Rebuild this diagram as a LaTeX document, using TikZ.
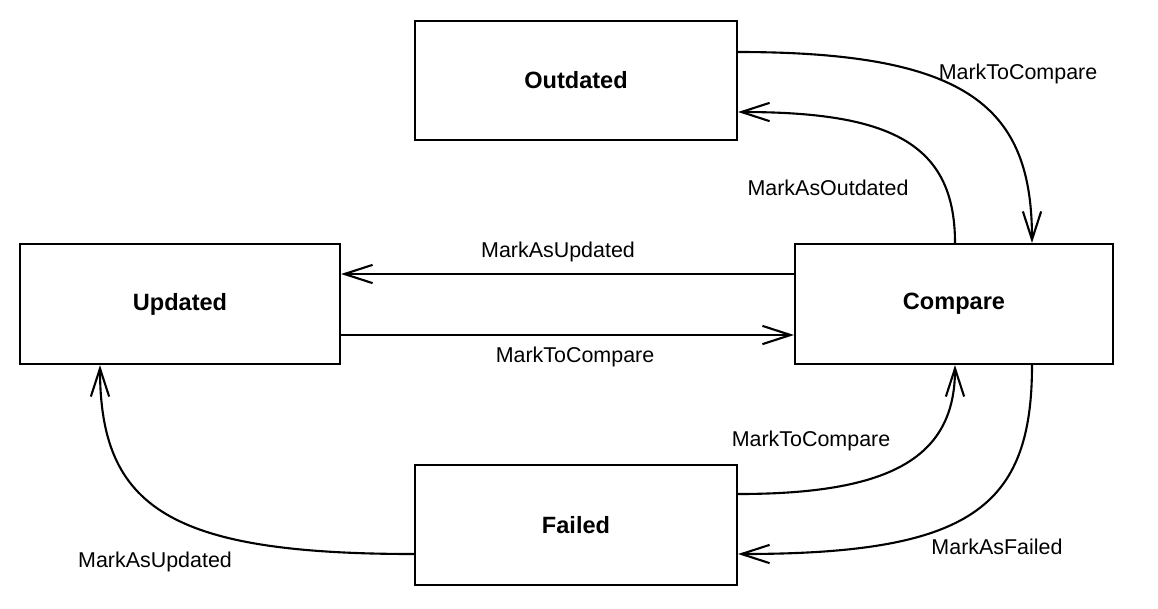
\documentclass[tikz,border=0pt]{standalone}
\usepackage{fontspec}
\setmainfont{Liberation Sans}
\usetikzlibrary{arrows.meta,calc}
\def\lbl{\fontsize{6.1}{7}\selectfont}
\def\st{\fontsize{6.7}{8}\selectfont\bfseries}

\begin{document}
\begin{tikzpicture}[line width=0.6pt,
    state/.style={draw,line width=0.6pt,inner sep=0pt,font=\st},
    trans/.style={-{Straight Barb[length=8pt,width=5.2pt,line width=0.6pt]}},
    tlabel/.style={font=\lbl,inner sep=1pt}]
	\useasboundingbox (0,0) rectangle (11.58,6.08);
    \node[state,minimum width=3.22cm,minimum height=1.19cm] (outd) at (5.76,5.275) {Outdated};
    \node[state,minimum width=3.20cm,minimum height=1.20cm] (upd) at (1.80,3.04) {Updated};
    \node[state,minimum width=3.18cm,minimum height=1.20cm] (cmp) at (9.54,3.04) {Compare};
    \node[state,minimum width=3.22cm,minimum height=1.20cm] (fail) at (5.76,0.83) {Failed};
    % outdated <-> compare
    \draw[trans] ([yshift=0.285cm]outd.east) .. controls (9.7,5.56) and (10.32,5.0) .. ([xshift=0.78cm]cmp.north);
    \draw[trans] ([xshift=0.01cm]cmp.north) .. controls (9.55,4.65) and (8.9,4.96) .. ([yshift=-0.315cm]outd.east);
    \node[tlabel] (l1) at (10.18,5.34) {MarkToCompare};
    \node[tlabel] (l2) at (8.28,4.20) {MarkAsOutdated};
    % updated <-> compare
    \draw[trans] ([yshift=0.30cm]cmp.west) -- ([yshift=0.30cm]upd.east);
    \draw[trans] ([yshift=-0.31cm]upd.east) -- ([yshift=-0.31cm]cmp.west);
    \node[tlabel] (l3) at (5.58,3.56) {MarkAsUpdated};
    \node[tlabel] (l4) at (5.75,2.51) {MarkToCompare};
    % failed <-> compare
    \draw[trans] ([yshift=0.31cm]fail.east) .. controls (8.9,1.14) and (9.55,1.5) .. ([xshift=0.01cm]cmp.south);
    \draw[trans] ([xshift=0.78cm]cmp.south) .. controls (10.32,1.0) and (9.7,0.54) .. ([yshift=-0.29cm]fail.east);
    \node[tlabel] (l5) at (8.11,1.67) {MarkToCompare};
    \node[tlabel] (l6) at (9.97,0.61) {MarkAsFailed};
    % failed -> updated
    \draw[trans] ([yshift=-0.29cm]fail.west) .. controls (1.7,0.54) and (1.0,1.0) .. ([xshift=-0.80cm]upd.south);
    \node[tlabel] (l7) at (1.55,0.46) {MarkAsUpdated};
\end{tikzpicture}
\end{document}
